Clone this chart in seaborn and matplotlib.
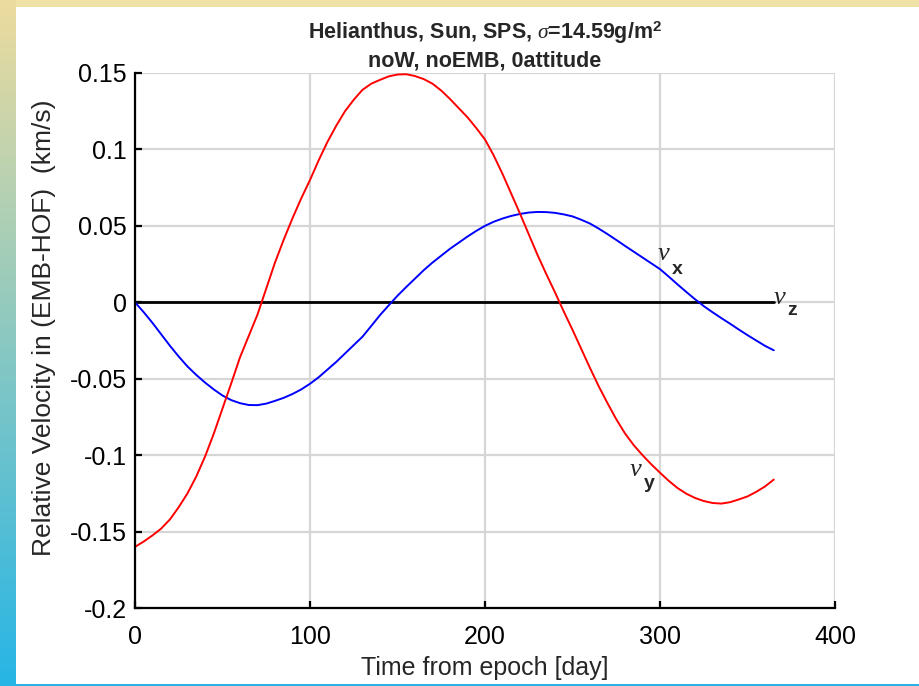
import numpy as np
import pandas as pd
import matplotlib
matplotlib.use("Agg")
import matplotlib.pyplot as plt
import seaborn as sns
from matplotlib.patches import Rectangle

# ---- data ----
days = [0, 5, 10, 15, 20, 25, 30, 35, 40, 45, 50, 55, 60, 65, 70, 75, 80, 85, 90, 95,
        100, 105, 110, 115, 120, 125, 130, 135, 140, 145, 150, 155, 160, 165, 170, 175,
        180, 185, 190, 195, 200, 205, 210, 215, 220, 225, 230, 235, 240, 245, 250, 255,
        260, 265, 270, 275, 280, 285, 290, 295, 300, 305, 310, 315, 320, 325, 330, 335,
        340, 345, 350, 355, 360, 365]
vx = [0.0, -0.0065, -0.0135, -0.021, -0.0285, -0.0355, -0.042, -0.0475, -0.0525, -0.057,
      -0.061, -0.064, -0.066, -0.0672, -0.0673, -0.0663, -0.0645, -0.0625, -0.060, -0.057,
      -0.0533, -0.049, -0.044, -0.039, -0.0335, -0.028, -0.0225, -0.0155, -0.0084, -0.002,
      0.0043, 0.010, 0.0155, 0.021, 0.026, 0.0305, 0.035, 0.039, 0.043, 0.0467,
      0.050, 0.0527, 0.0548, 0.0565, 0.0578, 0.0587, 0.0591, 0.0590, 0.0585, 0.0575,
      0.0562, 0.054, 0.0515, 0.0482, 0.0446, 0.0408, 0.0369, 0.0331, 0.0293, 0.0255,
      0.0217, 0.0168, 0.0117, 0.0068, 0.002, -0.0025, -0.0065, -0.0103, -0.014, -0.0178,
      -0.0215, -0.025, -0.0285, -0.0314]
vy = [-0.160, -0.1565, -0.1525, -0.148, -0.142, -0.134, -0.125, -0.114, -0.101, -0.086,
      -0.0695, -0.053, -0.036, -0.022, -0.008, 0.009, 0.026, 0.041, 0.055, 0.068,
      0.080, 0.093, 0.105, 0.1155, 0.125, 0.1325, 0.139, 0.143, 0.1455, 0.1478,
      0.149, 0.1492, 0.148, 0.146, 0.143, 0.1385, 0.133, 0.127, 0.121, 0.114,
      0.1065, 0.096, 0.084, 0.071, 0.058, 0.0445, 0.031, 0.0185, 0.0065, -0.006,
      -0.018, -0.0305, -0.043, -0.055, -0.066, -0.0765, -0.0858, -0.0935, -0.100, -0.106,
      -0.1115, -0.1168, -0.1215, -0.1252, -0.128, -0.130, -0.1313, -0.1317, -0.1308, -0.129,
      -0.127, -0.124, -0.1205, -0.116]
vz = [0.0] * len(days)

xticks = [0, 100, 200, 300, 400]
yticks = [0.15, 0.1, 0.05, 0, -0.05, -0.1, -0.15, -0.2]
ytick_labels = ["0.15", "0.1", "0.05", "0", "-0.05", "-0.1", "-0.15", "-0.2"]

title_text = "Helianthus, Sun, SPS, $\\sigma$=14.59g/m$^{\\mathbf{2}}$\nnoW, noEMB, 0attitude"
xlabel_text = "Time from epoch [day]"
ylabel_text = "Relative Velocity in (EMB-HOF)  (km/s)"

# ---- style ----
sns.set_style("white")
plt.rcParams["font.family"] = ["Liberation Sans", "DejaVu Sans"]
plt.rcParams["mathtext.fontset"] = "custom"
plt.rcParams["mathtext.rm"] = "Liberation Sans:bold"
plt.rcParams["mathtext.bf"] = "Liberation Sans:bold"
plt.rcParams["mathtext.it"] = "Liberation Serif:italic"

df = pd.DataFrame({"day": days, "vx": vx, "vy": vy, "vz": vz})

fig = plt.figure(figsize=(9.2, 6.86), dpi=100)
fig.patch.set_facecolor("white")

# decorative slide frame
strip = fig.add_axes([0, 0, 16 / 920, 1])
grad = np.linspace(0, 1, 256)[:, None]
top_c = np.array([0.93, 0.86, 0.62])
bot_c = np.array([0.15, 0.71, 0.90])
img = top_c[None, None, :] * (1 - grad[:, :, None]) + bot_c[None, None, :] * grad[:, :, None]
strip.imshow(img, aspect="auto", extent=[0, 1, 0, 1])
strip.set_axis_off()
fig.patches.append(Rectangle((16 / 920, 1 - 7 / 686), 1, 7 / 686, transform=fig.transFigure,
                             facecolor="#efe2a6", edgecolor="none", zorder=0))
fig.patches.append(Rectangle((16 / 920, 0), 1, 2.5 / 686, transform=fig.transFigure,
                             facecolor="#2ab3e2", edgecolor="none", zorder=0))

ax = fig.add_axes([135 / 920, 1 - 608 / 686, 700 / 920, 535 / 686])
ax.set_facecolor("white")

sns.lineplot(data=df, x="day", y="vz", ax=ax, color="black", linewidth=2.0, zorder=3)
sns.lineplot(data=df, x="day", y="vx", ax=ax, color="#0000ff", linewidth=1.4, zorder=4)
sns.lineplot(data=df, x="day", y="vy", ax=ax, color="#ff0000", linewidth=1.4, zorder=4)

ax.set_xlim(0, 400)
ax.set_ylim(-0.2, 0.15)
ax.set_xticks(xticks)
ax.set_xticklabels([str(t) for t in xticks])
ax.set_yticks(yticks)
ax.set_yticklabels(ytick_labels)

ax.grid(True, color="#d6d6d6", linewidth=1.6, zorder=0)
ax.set_axisbelow(True)
for s in ["top", "right"]:
    ax.spines[s].set_visible(False)
for s in ["left", "bottom"]:
    ax.spines[s].set_color("black")
    ax.spines[s].set_linewidth(1.6)
    ax.spines[s].set_zorder(5)

ax.tick_params(axis="both", direction="in", length=5, width=1.6, colors="black",
               labelsize=18, left=True, bottom=True)
ax.tick_params(axis="x", pad=12)
ax.tick_params(axis="y", pad=6)

ax.set_xlabel(xlabel_text, fontsize=18, labelpad=5)
ax.set_ylabel(ylabel_text, fontsize=19)
ax.yaxis.set_label_coords(-0.113, 0.523)
ax.set_title(title_text, fontsize=15.5, fontweight="bold", pad=5, linespacing=1.25)

# series labels
lab_kw = dict(zorder=6, ha="center", va="center")
ax.text(302, 0.032, "$v$", fontsize=19, **lab_kw)
ax.text(310, 0.0215, "x", fontsize=14, fontweight="bold", **lab_kw)
ax.text(286, -0.109, "$v$", fontsize=19, **lab_kw)
ax.text(294, -0.1185, "y", fontsize=14, fontweight="bold", **lab_kw)
ax.text(368.5, 0.0035, "$v$", fontsize=19, **lab_kw)
ax.text(375.5, -0.0055, "z", fontsize=14, fontweight="bold", **lab_kw)

fig.savefig("out.png", dpi=100, facecolor="white")
